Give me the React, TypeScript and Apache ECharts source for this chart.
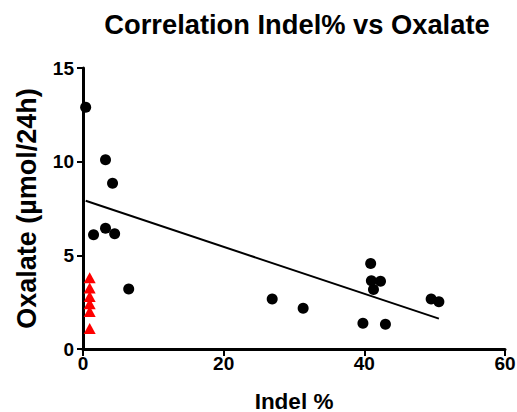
import React, { useEffect, useRef } from "react";
import * as echarts from "echarts";

const circleX = [0.38, 3.2, 4.2, 1.5, 3.2, 4.5, 6.5, 26.9, 31.3, 40.9, 41.0, 42.3, 41.3, 39.8, 43.0, 49.5, 50.6];
const circleY = [12.9, 10.1, 8.85, 6.1, 6.45, 6.15, 3.2, 2.67, 2.17, 4.57, 3.64, 3.62, 3.18, 1.37, 1.32, 2.67, 2.52];
const triangleX = [0.95, 0.95, 0.95, 0.95, 0.95, 0.95];
const triangleY = [3.8, 3.25, 2.8, 2.42, 2.0, 1.1];
const fitX = [0.38, 50.6];
const fitY = [7.91, 1.62];

const titleText = "Correlation Indel% vs Oxalate";
const xName = "Indel %";
const yName = "Oxalate (µmol/24h)";

export default function App() {
  const ref = useRef<HTMLDivElement>(null);
  useEffect(() => {
    if (!ref.current) return;
    const chart = echarts.init(ref.current, null, { renderer: "svg", width: 517, height: 412 });
    const font = "'Liberation Sans', Arial, sans-serif";
    chart.setOption({
      animation: false,
      backgroundColor: "#ffffff",
      title: {
        text: titleText,
        left: 292,
        top: 6,
        textAlign: "center",
        textStyle: { fontFamily: font, fontWeight: "bold", fontSize: 27.3, color: "#000" },
      },
      grid: { left: 83, top: 68, width: 422, height: 281, containLabel: false, outerBoundsMode: "none" },
      xAxis: {
        type: "value",
        min: 0,
        max: 60,
        interval: 20,
        name: xName,
        nameLocation: "middle",
        nameGap: 42,
        nameTextStyle: { fontFamily: font, fontWeight: "bold", fontSize: 22.5, lineHeight: 20, color: "#000" },
        axisLine: { onZero: false, lineStyle: { color: "#000", width: 3 } },
        axisTick: { show: true, length: 7, lineStyle: { color: "#000", width: 2 } },
        axisLabel: { fontFamily: font, fontWeight: "bold", fontSize: 19, color: "#000", margin: 5 },
        splitLine: { show: false },
      },
      yAxis: {
        type: "value",
        min: 0,
        max: 15,
        interval: 5,
        name: yName,
        nameLocation: "middle",
        nameGap: 43,
        nameRotate: 90,
        nameTextStyle: { fontFamily: font, fontWeight: "bold", fontSize: 27, color: "#000" },
        axisLine: { show: true, onZero: false, lineStyle: { color: "#000", width: 3 } },
        axisTick: { show: true, length: 6, lineStyle: { color: "#000", width: 2 } },
        axisLabel: { fontFamily: font, fontWeight: "bold", fontSize: 19, color: "#000", margin: 9 },
        splitLine: { show: false },
      },
      series: [
        {
          type: "line",
          data: fitX.map((x, i) => [x, fitY[i]]),
          showSymbol: false,
          symbol: "none",
          lineStyle: { color: "#000", width: 2 },
          z: 1,
        },
        {
          type: "scatter",
          data: circleX.map((x, i) => [x, circleY[i]]),
          symbol: "circle",
          symbolSize: 11,
          itemStyle: { color: "#000", opacity: 1 },
          z: 3,
        },
        {
          type: "scatter",
          data: triangleX.map((x, i) => [x, triangleY[i]]),
          symbol: "triangle",
          symbolSize: [12, 11],
          itemStyle: { color: "#ff0000", opacity: 1 },
          z: 3,
        },
      ],
    });
    return () => chart.dispose();
  }, []);
  return (
    <div
      ref={ref}
      style={{ position: "fixed", left: 0, top: 0, width: 517, height: 412 }}
    />
  );
}
